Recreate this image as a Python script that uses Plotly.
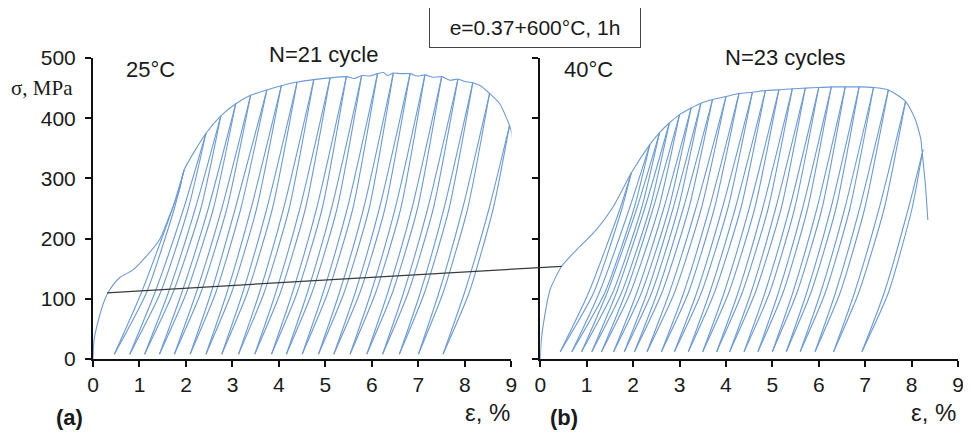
import plotly.graph_objects as go

# ---------------- data: panel (a) 25 C, N=21 ----------------
a_init_eps = [0.0, 0.02, 0.10, 0.25, 0.36, 0.57, 0.86, 1.14, 1.43, 1.64, 1.86, 1.96]
a_init_sig = [0, 30, 60, 98, 115, 135, 148, 170, 198, 237, 281, 314]
a_res_eps = [0.46, 0.79, 1.11, 1.43, 1.75, 2.09, 2.43, 2.77, 3.13, 3.48, 3.84,
             4.16, 4.50, 4.85, 5.18, 5.53, 5.89, 6.23, 6.59, 7.00, 7.53]
a_peak_eps = [1.96, 2.43, 2.75, 3.07, 3.39, 3.74, 4.05, 4.39, 4.75, 5.10, 5.45,
              5.78, 6.12, 6.46, 6.82, 7.14, 7.50, 7.85, 8.17, 8.53, 8.96]
a_peak_sig = [314, 375, 404, 424, 438, 447, 454, 460, 464, 467, 469,
              471, 474, 475, 474, 472, 469, 465, 459, 441, 388]
a_unl250 = [1.71, 1.95, 2.20, 2.48, 2.77, 3.06, 3.40, 3.74, 4.10, 4.45, 4.81,
            5.13, 5.47, 5.82, 6.16, 6.50, 6.86, 7.20, 7.55, 7.95, 8.52]
a_unl110 = [1.04, 1.33, 1.62, 1.91, 2.22, 2.54, 2.88, 3.22, 3.58, 3.93, 4.29,
            4.61, 4.95, 5.30, 5.64, 5.98, 6.34, 6.68, 7.04, 7.44, 7.99]
a_rel110 = [1.15, 1.45, 1.72, 2.01, 2.32, 2.64, 2.98, 3.32, 3.68, 4.03, 4.39,
            4.71, 5.05, 5.40, 5.74, 6.08, 6.44, 6.78, 7.13, 7.53, 8.09]
a_rel250 = [1.75, 2.05, 2.32, 2.59, 2.88, 3.18, 3.52, 3.86, 4.22, 4.57, 4.93,
            5.25, 5.59, 5.94, 6.28, 6.62, 6.98, 7.32, 7.66, 8.06, 8.61]
# serrated envelope points read between the peaks (noisy top of panel a)
a_extra_eps = [5.62, 5.95, 6.25, 6.33, 6.62, 6.97, 7.30, 7.68, 8.00, 8.35, 8.75]
a_extra_sig = [466, 470, 476, 471, 474, 470, 468, 463, 461, 453, 424]
a_tail_eps = [8.96, 9.00, 9.03]
a_tail_sig = [388, 377, 364]
a_bottom_sig = 8

# ---------------- data: panel (b) 40 C, N=23 ----------------
b_init_eps = [0.0, 0.02, 0.07, 0.21, 0.46, 0.79, 1.21, 1.57, 1.96]
b_init_sig = [0, 30, 60, 115, 154, 182, 215, 253, 309]
b_res_eps = [0.43, 0.68, 0.89, 1.11, 1.32, 1.58, 1.81, 2.03, 2.30, 2.61, 2.89, 3.19,
             3.50, 3.80, 4.08, 4.39, 4.69, 5.00, 5.30, 5.60, 5.92, 6.32, 6.93]
b_peak_eps = [1.96, 2.36, 2.57, 2.78, 3.00, 3.25, 3.46, 3.71, 4.00, 4.28, 4.57, 4.85,
              5.14, 5.43, 5.71, 6.00, 6.27, 6.57, 6.87, 7.18, 7.50, 7.87, 8.23]
b_peak_sig = [309, 356, 376, 392, 406, 417, 425, 431, 436, 441, 443, 446,
              447, 449, 450, 451, 452, 452, 452, 451, 447, 428, 342]
b_unl250 = [1.72, 1.92, 2.08, 2.25, 2.43, 2.66, 2.86, 3.08, 3.35, 3.64, 3.92, 4.20,
            4.50, 4.79, 5.07, 5.37, 5.65, 5.96, 6.26, 6.56, 6.88, 7.30, 7.93]
b_unl110 = [1.04, 1.27, 1.44, 1.64, 1.84, 2.08, 2.30, 2.52, 2.78, 3.09, 3.37, 3.65,
            3.96, 4.26, 4.54, 4.84, 5.13, 5.44, 5.74, 6.04, 6.36, 6.77, 7.41]
b_rel110 = [1.15, 1.39, 1.56, 1.75, 1.94, 2.18, 2.40, 2.62, 2.89, 3.19, 3.47, 3.75,
            4.06, 4.35, 4.63, 4.94, 5.23, 5.53, 5.83, 6.14, 6.46, 6.86, 7.50]
b_rel250 = [1.76, 2.02, 2.18, 2.36, 2.55, 2.77, 2.97, 3.20, 3.47, 3.75, 4.04, 4.32,
            4.62, 4.91, 5.19, 5.48, 5.76, 6.07, 6.37, 6.67, 6.99, 7.41, 8.01]
b_extra_eps = [8.07, 8.20, 8.25]
b_extra_sig = [400, 365, 348]
b_tail_eps = [8.23, 8.30, 8.35]
b_tail_sig = [342, 287, 231]
b_bottom_sig = 12

knee_sig = [250, 110]

# connector line between the panels
conn_a = (0.30, 110)
conn_b = (0.46, 154)

x_ticks = list(range(0, 10))
y_ticks = [0, 100, 200, 300, 400, 500]

BLUE = "#6b9ad8"
DOM_A = [0.0, 0.4837]
DOM_B = [0.5171, 1.0]
XR = [0, 9]


def loops(res, pe, ps, u250, u110, r110, r250, bot):
    xs, ys = [], []
    for i in range(len(res)):
        xs += [pe[i], u250[i], u110[i], res[i], None, res[i], r110[i], r250[i], pe[i], None]
        ys += [ps[i], knee_sig[0], knee_sig[1], bot, None, bot, knee_sig[1], knee_sig[0], ps[i], None]
    return xs, ys


def envelope(init_e, init_s, pe, ps, ex_e, ex_s, tail_e, tail_s):
    pts = list(zip(init_e, init_s)) + list(zip(pe[1:], ps[1:])) + list(zip(ex_e, ex_s))
    pts = sorted(set(pts))
    xs = [p[0] for p in pts] + [None] + tail_e
    ys = [p[1] for p in pts] + [None] + tail_s
    return xs, ys


fig = go.Figure()
line = dict(color=BLUE, width=1.1, shape="spline", smoothing=0.6)

ax, ay = loops(a_res_eps, a_peak_eps, a_peak_sig, a_unl250, a_unl110, a_rel110, a_rel250, a_bottom_sig)
fig.add_trace(go.Scatter(x=ax, y=ay, mode="lines", line=line, xaxis="x", yaxis="y", hoverinfo="skip"))
ex, ey = envelope(a_init_eps, a_init_sig, a_peak_eps, a_peak_sig, a_extra_eps, a_extra_sig, a_tail_eps, a_tail_sig)
fig.add_trace(go.Scatter(x=ex, y=ey, mode="lines", line=line, xaxis="x", yaxis="y", hoverinfo="skip"))

bx, by = loops(b_res_eps, b_peak_eps, b_peak_sig, b_unl250, b_unl110, b_rel110, b_rel250, b_bottom_sig)
fig.add_trace(go.Scatter(x=bx, y=by, mode="lines", line=line, xaxis="x2", yaxis="y2", hoverinfo="skip"))
ex, ey = envelope(b_init_eps, b_init_sig, b_peak_eps, b_peak_sig, b_extra_eps, b_extra_sig, b_tail_eps, b_tail_sig)
fig.add_trace(go.Scatter(x=ex, y=ey, mode="lines", line=line, xaxis="x2", yaxis="y2", hoverinfo="skip"))


def to_paper(eps, dom):
    return dom[0] + (eps - XR[0]) / (XR[1] - XR[0]) * (dom[1] - dom[0])


fig.add_shape(type="line", xref="paper", yref="y",
              x0=to_paper(conn_a[0], DOM_A), y0=conn_a[1],
              x1=to_paper(conn_b[0], DOM_B), y1=conn_b[1],
              line=dict(color="#3a3a3a", width=1.3))

tickfont = dict(family="Liberation Sans, Arial", size=21, color="#1a1a1a")
xcommon = dict(range=XR, tickvals=x_ticks, ticks="outside", ticklen=6, tickwidth=2,
               tickcolor="#111", showline=True, linecolor="#111", linewidth=2,
               showgrid=False, zeroline=False, tickfont=tickfont, fixedrange=True)
ycommon = dict(range=[0, 500], tickvals=y_ticks, ticks="outside", ticklen=6, tickwidth=2,
               tickcolor="#111", showline=True, linecolor="#111", linewidth=2,
               showgrid=False, zeroline=False, tickfont=tickfont, fixedrange=True)

# the page body keeps an 8 px margin, so the figure is 8 px smaller each way
fig.update_layout(
    width=963, height=430,
    margin=dict(l=85.3, r=7.4, t=50.3, b=78.7),
    paper_bgcolor="white", plot_bgcolor="white",
    showlegend=False,
    xaxis=dict(domain=DOM_A, anchor="y", **xcommon),
    yaxis=dict(domain=[0, 1], anchor="x", ticklabelstandoff=5, **ycommon),
    xaxis2=dict(domain=DOM_B, anchor="y2", **xcommon),
    yaxis2=dict(domain=[0, 1], anchor="x2", showticklabels=False, **ycommon),
)

txt = dict(family="Liberation Sans, Arial", size=22, color="#1a1a1a")
ann = [
    dict(text="σ, MPa", x=-0.021, y=0.901, xanchor="right", yanchor="middle",
         font=dict(family="Liberation Serif, Times New Roman", size=21, color="#1a1a1a")),
    dict(text="25°C", x=0.0364, y=0.961, xanchor="left", yanchor="middle", font=txt),
    dict(text="N=21 cycle", x=0.267, y=1.011, xanchor="center", yanchor="middle", font=txt),
    dict(text="e=0.37+600°C, 1h", x=0.511, y=1.10, xanchor="center", yanchor="middle",
         font=dict(family="Liberation Sans, Arial", size=21, color="#1a1a1a"),
         width=196, height=25,
         bordercolor="#444", borderwidth=1, borderpad=7, bgcolor="white"),
    dict(text="40°C", x=0.542, y=0.961, xanchor="left", yanchor="middle", font=txt),
    dict(text="N=23 cycles", x=0.800, y=1.001, xanchor="center", yanchor="middle", font=txt),
    dict(text="<b>(a)</b>", x=-0.0268, y=-0.195, xanchor="center", yanchor="middle",
         font=dict(family="Liberation Sans, Arial", size=22, color="#1a1a1a")),
    dict(text="<b>(b)</b>", x=0.545, y=-0.195, xanchor="center", yanchor="middle",
         font=dict(family="Liberation Sans, Arial", size=22, color="#1a1a1a")),
    dict(text="ε, %", x=0.4845, y=-0.178, xanchor="right", yanchor="middle",
         font=dict(family="Liberation Sans, Arial", size=24, color="#1a1a1a")),
    dict(text="ε, %", x=1.0, y=-0.178, xanchor="right", yanchor="middle",
         font=dict(family="Liberation Sans, Arial", size=24, color="#1a1a1a")),
]
for a in ann:
    a.update(xref="paper", yref="paper", showarrow=False)
fig.update_layout(annotations=ann)

fig.write_html("out.html")
